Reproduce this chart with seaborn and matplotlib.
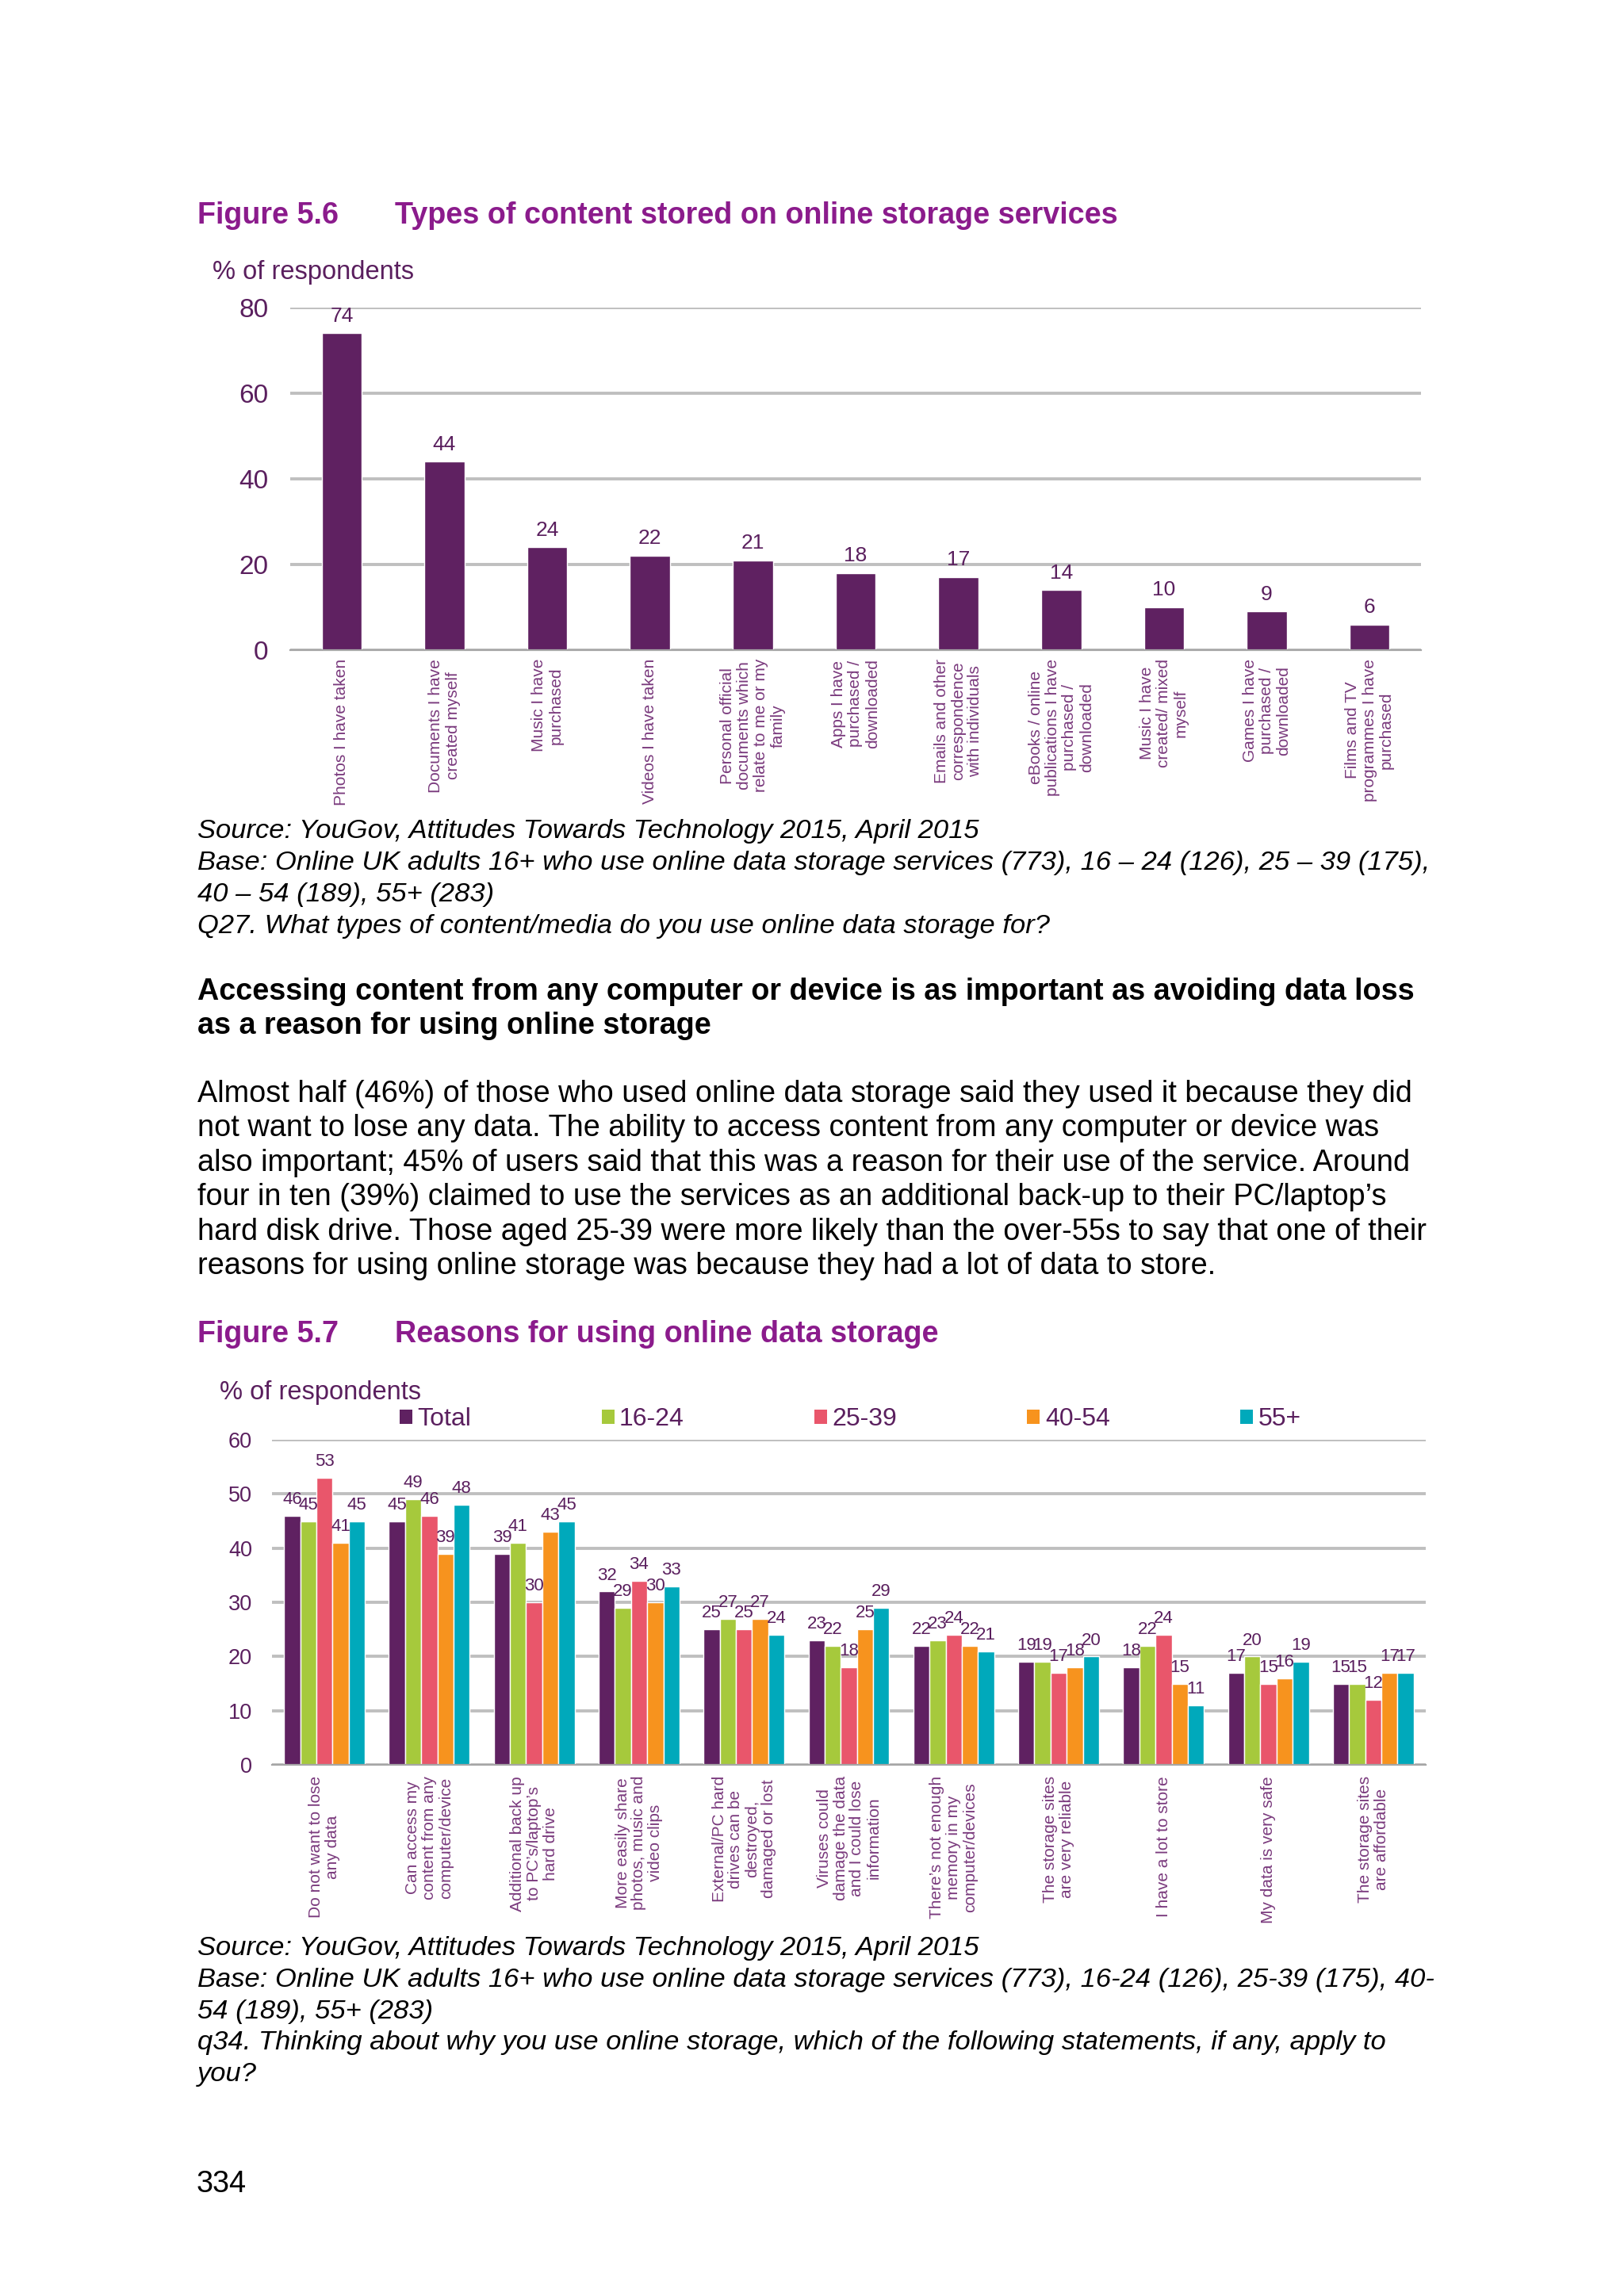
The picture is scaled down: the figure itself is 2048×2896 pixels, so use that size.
import numpy as np
import pandas as pd
import matplotlib
matplotlib.use("Agg")
import matplotlib.pyplot as plt
from matplotlib.patches import Patch
import seaborn as sns

# ---- data: figure 5.6 ----
content_types = [
    "Photos I have taken",
    "Documents I have\ncreated myself",
    "Music I have\npurchased",
    "Videos I have taken",
    "Personal official\ndocuments which\nrelate to me or my\nfamily",
    "Apps I have\npurchased /\ndownloaded",
    "Emails and other\ncorrespondence\nwith individuals",
    "eBooks / online\npublications I have\npurchased /\ndownloaded",
    "Music I have\ncreated/ mixed\nmyself",
    "Games I have\npurchased /\ndownloaded",
    "Films and TV\nprogrammes I have\npurchased",
]
content_pct = [74, 44, 24, 22, 21, 18, 17, 14, 10, 9, 6]

# ---- data: figure 5.7 ----
reasons = [
    "Do not want to lose\nany data",
    "Can access my\ncontent from any\ncomputer/device",
    "Additional back up\nto PC\u2019s/laptop\u2019s\nhard drive",
    "More easily share\nphotos, music and\nvideo clips",
    "External/PC hard\ndrives can be\ndestroyed,\ndamaged or lost",
    "Viruses could\ndamage the data\nand I could lose\ninformation",
    "There\u2019s not enough\nmemory in my\ncomputer/devices",
    "The storage sites\nare very reliable",
    "I have a lot to store",
    "My data is very safe",
    "The storage sites\nare affordable",
]
age_groups = ["Total", "16-24", "25-39", "40-54", "55+"]
total = [46, 45, 39, 32, 25, 23, 22, 19, 18, 17, 15]
age_16_24 = [45, 49, 41, 29, 27, 22, 23, 19, 22, 20, 15]
age_25_39 = [53, 46, 30, 34, 25, 18, 24, 17, 24, 15, 12]
age_40_54 = [41, 39, 43, 30, 27, 25, 22, 18, 15, 16, 17]
age_55_plus = [45, 48, 45, 33, 24, 29, 21, 20, 11, 19, 17]

group_colors = ["#5f2161", "#a6c93c", "#e9566b", "#f7931e", "#00a9bb"]
BAR_PURPLE = "#5f2161"
CHART_TXT = "#5a1f5e"
LABEL_TXT = "#7a3a7d"
TITLE_COL = "#8b1b8c"
GRID_COL = "#bfbfbf"

sns.set_theme(style="white")
plt.rcParams["font.family"] = ["Liberation Sans", "DejaVu Sans"]

W, H = 2048, 2896
fig = plt.figure(figsize=(W / 100, H / 100), dpi=100)


def fx(x):
    return x / W


def fy(y):
    return 1 - y / H


def page_text(x, y, s, **kw):
    fig.text(fx(x), fy(y), s, va="baseline", ha="left", **kw)


def style_axes(ax, n, ymax, step, ytick_size, ypad, xpad):
    ax.set_ylim(0, ymax)
    ax.set_yticks(np.arange(0, ymax + 1, step))
    ax.yaxis.grid(True, color=GRID_COL, lw=2.8)
    ax.xaxis.grid(False)
    ax.set_axisbelow(True)
    for s in ["top", "right", "left"]:
        ax.spines[s].set_visible(False)
    ax.spines["bottom"].set_color("#a6a6a6")
    ax.spines["bottom"].set_linewidth(1.6)
    ax.set_xlabel("")
    ax.set_ylabel("")
    ax.tick_params(axis="y", length=0, pad=ypad, labelsize=ytick_size, labelcolor=CHART_TXT)
    ax.set_xticks(np.arange(-0.5, n, 1), minor=True)
    ax.tick_params(axis="x", which="minor", length=6, width=1.4, color="#a6a6a6", direction="out")
    ax.tick_params(axis="x", which="major", length=0, pad=xpad)
    ax.set_xlim(-0.5, n - 0.5)


# ================= Figure 5.6 =================
page_text(249, 282, "Figure 5.6", fontsize=27.2, fontweight="bold", color=TITLE_COL)
page_text(498, 282, "Types of content stored on online storage services",
          fontsize=27.2, fontweight="bold", color=TITLE_COL)
page_text(268, 352, "% of respondents", fontsize=23.5, color=CHART_TXT)

df1 = pd.DataFrame({"content": content_types, "pct": content_pct})
ax1 = fig.add_axes([fx(366), fy(820), (1792 - 366) / W, (820 - 388) / H])
sns.barplot(data=df1, x="content", y="pct", color=BAR_PURPLE, saturation=1,
            width=0.39, errorbar=None, ax=ax1)
style_axes(ax1, len(content_types), 80, 20, 24, 20, 8)
ax1.set_xticks(range(len(content_types)))
ax1.set_xticklabels(content_types, rotation=90, fontsize=15, color=LABEL_TXT,
                    ha="center", va="top", multialignment="center", linespacing=1.15)
for c in ax1.containers:
    ax1.bar_label(c, fmt="%.0f", padding=7, fontsize=19, color=CHART_TXT)

src1 = [
    "Source: YouGov, Attitudes Towards Technology 2015, April 2015",
    "Base: Online UK adults 16+ who use online data storage services (773), 16 \u2013 24 (126), 25 \u2013 39 (175),",
    "40 \u2013 54 (189), 55+ (283)",
    "Q27. What types of content/media do you use online data storage for?",
]
for i, line in enumerate(src1):
    page_text(249, 1057 + 40 * i, line, fontsize=24.8, style="italic", color="black")

heading = [
    "Accessing content from any computer or device is as important as avoiding data loss",
    "as a reason for using online storage",
]
for i, line in enumerate(heading):
    page_text(249, 1261 + 43 * i, line, fontsize=27.2, fontweight="bold", color="black")

para = [
    "Almost half (46%) of those who used online data storage said they used it because they did",
    "not want to lose any data. The ability to access content from any computer or device was",
    "also important; 45% of users said that this was a reason for their use of the service. Around",
    "four in ten (39%) claimed to use the services as an additional back-up to their PC/laptop\u2019s",
    "hard disk drive. Those aged 25-39 were more likely than the over-55s to say that one of their",
    "reasons for using online storage was because they had a lot of data to store.",
]
for i, line in enumerate(para):
    page_text(249, 1390 + 43.4 * i, line, fontsize=27.3, color="black")

# ================= Figure 5.7 =================
page_text(249, 1693, "Figure 5.7", fontsize=27.2, fontweight="bold", color=TITLE_COL)
page_text(498, 1693, "Reasons for using online data storage",
          fontsize=27.2, fontweight="bold", color=TITLE_COL)
page_text(277, 1765, "% of respondents", fontsize=23.5, color=CHART_TXT)

series = [total, age_16_24, age_25_39, age_40_54, age_55_plus]
df2 = pd.DataFrame({
    "reason": np.tile(reasons, len(age_groups)),
    "group": np.repeat(age_groups, len(reasons)),
    "pct": np.concatenate(series),
})
ax2 = fig.add_axes([fx(343), fy(2226), (1798 - 343) / W, (2226 - 1816) / H])
sns.barplot(data=df2, x="reason", y="pct", hue="group", hue_order=age_groups,
            palette=group_colors, saturation=1, width=0.77, errorbar=None,
            legend=False, ax=ax2)
style_axes(ax2, len(reasons), 60, 10, 19.5, 18, 10)
ax2.set_xticks(range(len(reasons)))
ax2.set_xticklabels(reasons, rotation=90, fontsize=15, color=LABEL_TXT,
                    ha="center", va="top", multialignment="center", linespacing=1.12)
for c in ax2.containers:
    ax2.bar_label(c, fmt="%.0f", padding=7, fontsize=16, color=CHART_TXT)

handles = [Patch(facecolor=c, edgecolor="none") for c in group_colors]
ax2.legend(handles, age_groups, ncol=5, loc="center", mode="expand",
           bbox_to_anchor=(0.1107, 1.063, 0.781, 0.0), frameon=False,
           fontsize=23, labelcolor=CHART_TXT, handlelength=0.5, handleheight=0.5,
           handletextpad=0.2, borderpad=0, borderaxespad=0)

src2 = [
    "Source: YouGov, Attitudes Towards Technology 2015, April 2015",
    "Base: Online UK adults 16+ who use online data storage services (773), 16-24 (126), 25-39 (175), 40-",
    "54 (189), 55+ (283)",
    "q34. Thinking about why you use online storage, which of the following statements, if any, apply to",
    "you?",
]
for i, line in enumerate(src2):
    page_text(249, 2466 + 39.8 * i, line, fontsize=24.8, style="italic", color="black")

page_text(248, 2765, "334", fontsize=27.3, color="black")

fig.savefig("out.png", dpi=100, facecolor="white")
